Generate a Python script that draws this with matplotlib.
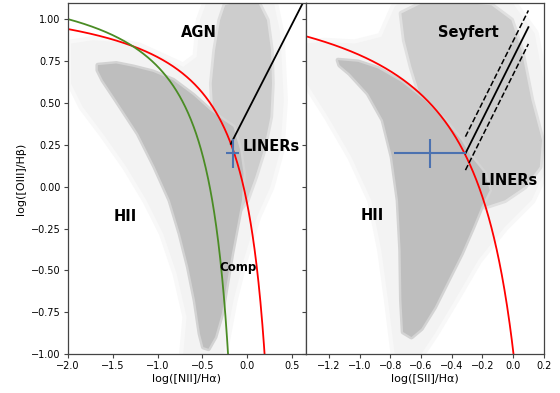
import numpy as np
import matplotlib
matplotlib.use("Agg")
import matplotlib.pyplot as plt

# --- demarcation lines, y = a / (x - b) + c  (coefficients)
kewley_nii = [0.61, 0.47, 1.19]
kauff_nii = [0.61, 0.05, 1.30]
kewley_sii = [0.688, 0.30, 1.317]
kewley_nii_xrange = [-2.0, 0.195]
kauff_nii_xrange = [-2.0, -0.213]
kewley_sii_xrange = [-1.35, 0.005]

# straight AGN/LINER separators: slope, intercept, x start, x end
schawinski_nii = [1.05, 0.45, -0.184, 0.65]
seyf_liner_sii = [1.84, 0.77, -0.31, 0.10]
seyf_liner_off = 0.1

# typical error bars (x, y, xerr, yerr)
err_nii = [-0.165, 0.20, 0.075, 0.087]
err_sii = [-0.54, 0.20, 0.235, 0.087]

# --- gray galaxy cloud outlines (data coords): sparse halo, AGN branch, dense core
nii_halo_x = [-1.963, -1.721, -1.46, -1.199, -0.714, -0.565, -0.528, -0.453, 0.293, 0.367, 0.405, 0.367,
              0.256, 0.106, -0.043, -0.155, -0.266, -0.714, -0.677, -0.788, -0.938, -1.124, -1.348,
              -1.609, -1.833, -1.963]
nii_halo_y = [0.856, 0.876, 0.866, 0.836, 0.717, 0.776, 0.996, 1.105, 1.105, 0.916, 0.517, 0.218,
              -0.001, -0.18, -0.44, -0.679, -0.998, -0.998, -0.778, -0.519, -0.28, -0.081, 0.119,
              0.318, 0.477, 0.617]
nii_agn_x = [-0.378, -0.397, -0.36, -0.304, -0.248, -0.08, 0.125, 0.218, 0.263, 0.274, 0.256, 0.181,
             0.088, -0.006, -0.117, -0.155, -0.304]
nii_agn_y = [0.418, 0.617, 0.816, 0.996, 1.085, 1.109, 1.095, 0.996, 0.816, 0.617, 0.418, 0.218,
             0.059, -0.081, -0.16, 0.119, 0.278]
nii_core_x = [-1.665, -1.46, -1.273, -1.05, -0.826, -0.602, -0.416, -0.266, -0.155, -0.08, -0.043,
              -0.061, -0.117, -0.173, -0.229, -0.285, -0.36, -0.434, -0.49, -0.528, -0.583, -0.658,
              -0.751, -0.863, -1.031, -1.217, -1.46, -1.609, -1.665]
nii_core_y = [0.727, 0.737, 0.717, 0.687, 0.637, 0.547, 0.458, 0.398, 0.358, 0.218, 0.079,
              -0.081, -0.24, -0.4, -0.579, -0.759, -0.898, -0.968, -0.958, -0.878, -0.679, -0.479,
              -0.28, -0.081, 0.119, 0.318, 0.517, 0.637, 0.697]

sii_halo_x = [-1.357, -1.227, -1.031, -0.858, -0.771, -0.727, -0.011, 0.141, 0.202, 0.202, 0.12,
              -0.054, -0.228, -0.38, -0.51, -0.597, -0.771, -0.814, -0.858, -0.923, -1.053, -1.205,
              -1.357]
sii_halo_y = [0.856, 0.866, 0.856, 0.896, 1.076, 1.109, 1.109, 0.916, 0.617, 0.079, -0.081,
              -0.24, -0.44, -0.679, -0.878, -0.998, -0.998, -0.679, -0.38, -0.081, 0.178, 0.418,
              0.637]
sii_agn_x = [-0.727, -0.597, -0.38, -0.141, -0.011, 0.055, 0.12, 0.189, 0.174, 0.076, -0.054,
             -0.184, -0.271, -0.401, -0.575, -0.662, -0.706]
sii_agn_y = [1.036, 1.095, 1.105, 1.085, 0.996, 0.816, 0.517, 0.278, 0.119, 0.0, -0.081,
             -0.12, -0.041, 0.278, 0.458, 0.717, 0.876]
sii_core_x = [-1.14, -1.01, -0.879, -0.727, -0.575, -0.445, -0.336, -0.271, -0.184, -0.152, -0.206,
              -0.26, -0.336, -0.423, -0.51, -0.597, -0.662, -0.716, -0.727, -0.732, -0.749, -0.788,
              -0.847, -0.944, -1.064, -1.129]
sii_core_y = [0.757, 0.747, 0.707, 0.627, 0.517, 0.398, 0.278, 0.178, 0.079, -0.021, -0.12,
              -0.24, -0.4, -0.559, -0.719, -0.848, -0.898, -0.868, -0.679, -0.38, -0.081, 0.178,
              0.398, 0.557, 0.677, 0.727]

# --- labels: text, x, y, size, horizontal alignment
nii_labels = [("AGN", -0.54, 0.92, 10.5, "center"), ("LINERs", -0.05, 0.24, 10.5, "left"),
              ("HII", -1.36, -0.18, 10.5, "center"), ("Comp", -0.31, -0.48, 8.5, "left")]
sii_labels = [("Seyfert", -0.29, 0.92, 10.5, "center"), ("LINERs", -0.21, 0.04, 10.5, "left"),
              ("HII", -0.92, -0.17, 10.5, "center")]

layer_face = ["#f3f3f3", "#cdcdcd", "#bebebe"]
layer_edge = ["#f8f8f8", "#e0e0e0", "#d3d3d3"]
rim_width = [6, 4, 3.5]


def curve(ax, coef, xr, color):
    a, b, c = coef
    x = np.linspace(xr[0], xr[1], 400)
    ax.plot(x, a / (x - b) + c, color=color, lw=1.3, zorder=3)


def cloud(ax, outlines):
    # soft rim first, then the flat fill on top of it
    for (xs, ys), fc, ec, w in zip(outlines, layer_face, layer_edge, rim_width):
        ax.fill(xs, ys, facecolor=ec, edgecolor=ec, lw=w, joinstyle="round", zorder=1)
        ax.fill(xs, ys, facecolor=fc, lw=0, zorder=1)


fig, (ax1, ax2) = plt.subplots(1, 2, sharey=True, figsize=(5.6, 3.93), dpi=100)
fig.subplots_adjust(left=0.121, right=0.971, bottom=0.099, top=0.993, wspace=0.0)

# left: [NII] diagram
cloud(ax1, [(nii_halo_x, nii_halo_y), (nii_agn_x, nii_agn_y), (nii_core_x, nii_core_y)])
curve(ax1, kewley_nii, kewley_nii_xrange, "red")
curve(ax1, kauff_nii, kauff_nii_xrange, "#4a8c24")
m, q, x0, x1 = schawinski_nii
ax1.plot([x0, x1], [m * x0 + q, m * x1 + q], color="black", lw=1.3, zorder=3)
ax1.errorbar(err_nii[0], err_nii[1], xerr=err_nii[2], yerr=err_nii[3], color="#4c72b0",
             lw=1.5, capsize=0, zorder=4)
for t, x, y, s, ha in nii_labels:
    ax1.text(x, y, t, fontsize=s, fontweight="bold", ha=ha, va="center", zorder=5)
ax1.set_xlim(-2.0, 0.65)
ax1.set_ylim(-1.0, 1.1)
ax1.set_xlabel("log([NII]/H\u03b1)", fontsize=8, labelpad=2)
ax1.set_ylabel("log([OIII]/H\u03b2)", fontsize=8, labelpad=4)

# right: [SII] diagram
cloud(ax2, [(sii_halo_x, sii_halo_y), (sii_agn_x, sii_agn_y), (sii_core_x, sii_core_y)])
curve(ax2, kewley_sii, kewley_sii_xrange, "red")
m, q, x0, x1 = seyf_liner_sii
ax2.plot([x0, x1], [m * x0 + q, m * x1 + q], color="black", lw=1.3, zorder=3)
for off in (seyf_liner_off, -seyf_liner_off):
    ax2.plot([x0, x1], [m * x0 + q + off, m * x1 + q + off], color="black", lw=1.1, ls="--", zorder=3)
ax2.errorbar(err_sii[0], err_sii[1], xerr=err_sii[2], yerr=err_sii[3], color="#4c72b0",
             lw=1.5, capsize=0, zorder=4)
for t, x, y, s, ha in sii_labels:
    ax2.text(x, y, t, fontsize=s, fontweight="bold", ha=ha, va="center", zorder=5)
ax2.set_xlim(-1.35, 0.2)
ax2.set_xlabel("log([SII]/H\u03b1)", fontsize=8, labelpad=2)

for ax in (ax1, ax2):
    ax.tick_params(labelsize=7, length=3, width=0.8, color="#444444", pad=2)
    for sp in ax.spines.values():
        sp.set_color("#444444")
        sp.set_linewidth(0.9)
        sp.set_zorder(6)

fig.savefig("out.png", dpi=100)
